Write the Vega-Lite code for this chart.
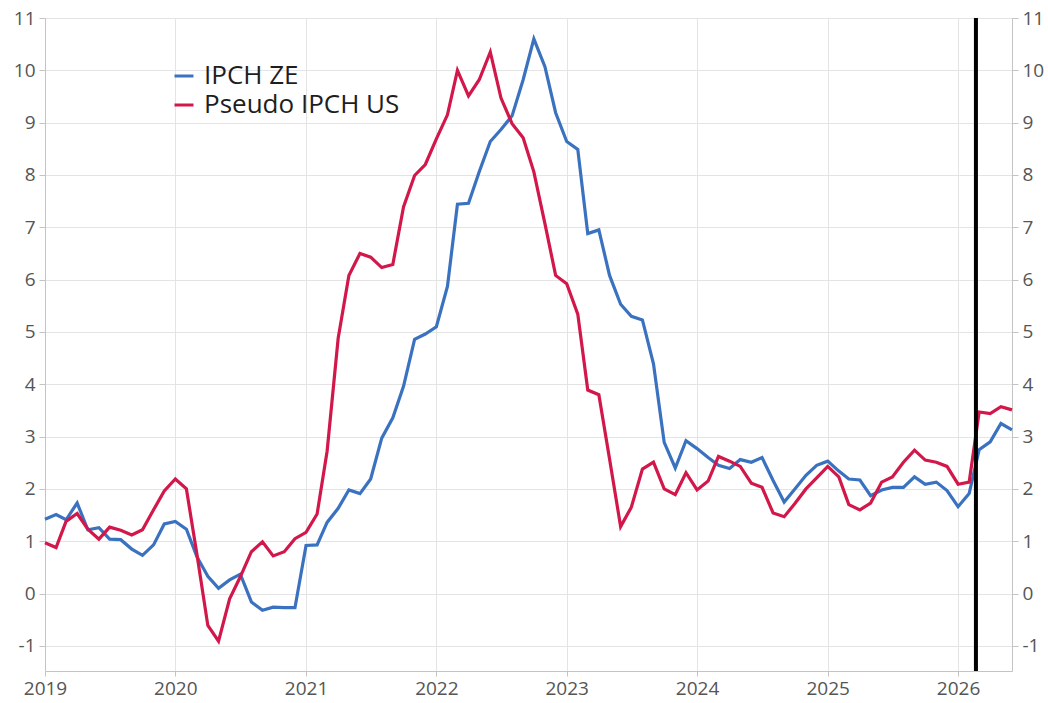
{
  "$schema": "https://vega.github.io/schema/vega-lite/v6.json",
  "width": 967,
  "height": 653,
  "autosize": {"type": "none"},
  "padding": {"left": 45, "top": 18, "right": 36, "bottom": 32},
  "background": "white",
  "config": {
    "font": "Open Sans",
    "view": {"stroke": null},
    "axis": {
      "labelFont": "Open Sans",
      "labelFontSize": 19,
      "labelColor": "#555555",
      "domainColor": "#c4c4c4",
      "tickColor": "#c4c4c4",
      "gridColor": "#e4e4e4",
      "title": null
    }
  },
  "datasets": {
    "series": [
      {"date": "2019-01-01", "serie": "IPCH ZE", "value": 1.42},
      {"date": "2019-02-01", "serie": "IPCH ZE", "value": 1.51},
      {"date": "2019-03-01", "serie": "IPCH ZE", "value": 1.41},
      {"date": "2019-04-01", "serie": "IPCH ZE", "value": 1.73},
      {"date": "2019-05-01", "serie": "IPCH ZE", "value": 1.22},
      {"date": "2019-06-01", "serie": "IPCH ZE", "value": 1.26},
      {"date": "2019-07-01", "serie": "IPCH ZE", "value": 1.04},
      {"date": "2019-08-01", "serie": "IPCH ZE", "value": 1.03},
      {"date": "2019-09-01", "serie": "IPCH ZE", "value": 0.85},
      {"date": "2019-10-01", "serie": "IPCH ZE", "value": 0.73},
      {"date": "2019-11-01", "serie": "IPCH ZE", "value": 0.93},
      {"date": "2019-12-01", "serie": "IPCH ZE", "value": 1.33},
      {"date": "2020-01-01", "serie": "IPCH ZE", "value": 1.38},
      {"date": "2020-02-01", "serie": "IPCH ZE", "value": 1.23},
      {"date": "2020-03-01", "serie": "IPCH ZE", "value": 0.71},
      {"date": "2020-04-01", "serie": "IPCH ZE", "value": 0.33},
      {"date": "2020-05-01", "serie": "IPCH ZE", "value": 0.10},
      {"date": "2020-06-01", "serie": "IPCH ZE", "value": 0.26},
      {"date": "2020-07-01", "serie": "IPCH ZE", "value": 0.37},
      {"date": "2020-08-01", "serie": "IPCH ZE", "value": -0.16},
      {"date": "2020-09-01", "serie": "IPCH ZE", "value": -0.32},
      {"date": "2020-10-01", "serie": "IPCH ZE", "value": -0.26},
      {"date": "2020-11-01", "serie": "IPCH ZE", "value": -0.27},
      {"date": "2020-12-01", "serie": "IPCH ZE", "value": -0.27},
      {"date": "2021-01-01", "serie": "IPCH ZE", "value": 0.92},
      {"date": "2021-02-01", "serie": "IPCH ZE", "value": 0.93},
      {"date": "2021-03-01", "serie": "IPCH ZE", "value": 1.36},
      {"date": "2021-04-01", "serie": "IPCH ZE", "value": 1.63},
      {"date": "2021-05-01", "serie": "IPCH ZE", "value": 1.98},
      {"date": "2021-06-01", "serie": "IPCH ZE", "value": 1.91},
      {"date": "2021-07-01", "serie": "IPCH ZE", "value": 2.19},
      {"date": "2021-08-01", "serie": "IPCH ZE", "value": 2.97},
      {"date": "2021-09-01", "serie": "IPCH ZE", "value": 3.36},
      {"date": "2021-10-01", "serie": "IPCH ZE", "value": 3.96},
      {"date": "2021-11-01", "serie": "IPCH ZE", "value": 4.86},
      {"date": "2021-12-01", "serie": "IPCH ZE", "value": 4.96},
      {"date": "2022-01-01", "serie": "IPCH ZE", "value": 5.10},
      {"date": "2022-02-01", "serie": "IPCH ZE", "value": 5.87},
      {"date": "2022-03-01", "serie": "IPCH ZE", "value": 7.44},
      {"date": "2022-04-01", "serie": "IPCH ZE", "value": 7.46},
      {"date": "2022-05-01", "serie": "IPCH ZE", "value": 8.06},
      {"date": "2022-06-01", "serie": "IPCH ZE", "value": 8.64},
      {"date": "2022-07-01", "serie": "IPCH ZE", "value": 8.87},
      {"date": "2022-08-01", "serie": "IPCH ZE", "value": 9.13},
      {"date": "2022-09-01", "serie": "IPCH ZE", "value": 9.82},
      {"date": "2022-10-01", "serie": "IPCH ZE", "value": 10.6},
      {"date": "2022-11-01", "serie": "IPCH ZE", "value": 10.07},
      {"date": "2022-12-01", "serie": "IPCH ZE", "value": 9.19},
      {"date": "2023-01-01", "serie": "IPCH ZE", "value": 8.64},
      {"date": "2023-02-01", "serie": "IPCH ZE", "value": 8.49},
      {"date": "2023-03-01", "serie": "IPCH ZE", "value": 6.88},
      {"date": "2023-04-01", "serie": "IPCH ZE", "value": 6.95},
      {"date": "2023-05-01", "serie": "IPCH ZE", "value": 6.08},
      {"date": "2023-06-01", "serie": "IPCH ZE", "value": 5.53},
      {"date": "2023-07-01", "serie": "IPCH ZE", "value": 5.30},
      {"date": "2023-08-01", "serie": "IPCH ZE", "value": 5.23},
      {"date": "2023-09-01", "serie": "IPCH ZE", "value": 4.39},
      {"date": "2023-10-01", "serie": "IPCH ZE", "value": 2.89},
      {"date": "2023-11-01", "serie": "IPCH ZE", "value": 2.40},
      {"date": "2023-12-01", "serie": "IPCH ZE", "value": 2.92},
      {"date": "2024-01-01", "serie": "IPCH ZE", "value": 2.77},
      {"date": "2024-02-01", "serie": "IPCH ZE", "value": 2.60},
      {"date": "2024-03-01", "serie": "IPCH ZE", "value": 2.45},
      {"date": "2024-04-01", "serie": "IPCH ZE", "value": 2.39},
      {"date": "2024-05-01", "serie": "IPCH ZE", "value": 2.56},
      {"date": "2024-06-01", "serie": "IPCH ZE", "value": 2.51},
      {"date": "2024-07-01", "serie": "IPCH ZE", "value": 2.60},
      {"date": "2024-08-01", "serie": "IPCH ZE", "value": 2.16},
      {"date": "2024-09-01", "serie": "IPCH ZE", "value": 1.75},
      {"date": "2024-10-01", "serie": "IPCH ZE", "value": 2.00},
      {"date": "2024-11-01", "serie": "IPCH ZE", "value": 2.26},
      {"date": "2024-12-01", "serie": "IPCH ZE", "value": 2.45},
      {"date": "2025-01-01", "serie": "IPCH ZE", "value": 2.53},
      {"date": "2025-02-01", "serie": "IPCH ZE", "value": 2.34},
      {"date": "2025-03-01", "serie": "IPCH ZE", "value": 2.19},
      {"date": "2025-04-01", "serie": "IPCH ZE", "value": 2.17},
      {"date": "2025-05-01", "serie": "IPCH ZE", "value": 1.87},
      {"date": "2025-06-01", "serie": "IPCH ZE", "value": 1.98},
      {"date": "2025-07-01", "serie": "IPCH ZE", "value": 2.03},
      {"date": "2025-08-01", "serie": "IPCH ZE", "value": 2.03},
      {"date": "2025-09-01", "serie": "IPCH ZE", "value": 2.23},
      {"date": "2025-10-01", "serie": "IPCH ZE", "value": 2.09},
      {"date": "2025-11-01", "serie": "IPCH ZE", "value": 2.13},
      {"date": "2025-12-01", "serie": "IPCH ZE", "value": 1.97},
      {"date": "2026-01-01", "serie": "IPCH ZE", "value": 1.66},
      {"date": "2026-02-01", "serie": "IPCH ZE", "value": 1.91},
      {"date": "2026-03-01", "serie": "IPCH ZE", "value": 2.75},
      {"date": "2026-04-01", "serie": "IPCH ZE", "value": 2.90},
      {"date": "2026-05-01", "serie": "IPCH ZE", "value": 3.25},
      {"date": "2026-06-01", "serie": "IPCH ZE", "value": 3.13},
      {"date": "2019-01-01", "serie": "Pseudo IPCH US", "value": 0.97},
      {"date": "2019-02-01", "serie": "Pseudo IPCH US", "value": 0.88},
      {"date": "2019-03-01", "serie": "Pseudo IPCH US", "value": 1.38},
      {"date": "2019-04-01", "serie": "Pseudo IPCH US", "value": 1.53},
      {"date": "2019-05-01", "serie": "Pseudo IPCH US", "value": 1.23},
      {"date": "2019-06-01", "serie": "Pseudo IPCH US", "value": 1.04},
      {"date": "2019-07-01", "serie": "Pseudo IPCH US", "value": 1.27},
      {"date": "2019-08-01", "serie": "Pseudo IPCH US", "value": 1.21},
      {"date": "2019-09-01", "serie": "Pseudo IPCH US", "value": 1.12},
      {"date": "2019-10-01", "serie": "Pseudo IPCH US", "value": 1.22},
      {"date": "2019-11-01", "serie": "Pseudo IPCH US", "value": 1.60},
      {"date": "2019-12-01", "serie": "Pseudo IPCH US", "value": 1.96},
      {"date": "2020-01-01", "serie": "Pseudo IPCH US", "value": 2.19},
      {"date": "2020-02-01", "serie": "Pseudo IPCH US", "value": 2.00},
      {"date": "2020-03-01", "serie": "Pseudo IPCH US", "value": 0.77},
      {"date": "2020-04-01", "serie": "Pseudo IPCH US", "value": -0.61},
      {"date": "2020-05-01", "serie": "Pseudo IPCH US", "value": -0.91},
      {"date": "2020-06-01", "serie": "Pseudo IPCH US", "value": -0.10},
      {"date": "2020-07-01", "serie": "Pseudo IPCH US", "value": 0.32},
      {"date": "2020-08-01", "serie": "Pseudo IPCH US", "value": 0.80},
      {"date": "2020-09-01", "serie": "Pseudo IPCH US", "value": 0.99},
      {"date": "2020-10-01", "serie": "Pseudo IPCH US", "value": 0.72},
      {"date": "2020-11-01", "serie": "Pseudo IPCH US", "value": 0.80},
      {"date": "2020-12-01", "serie": "Pseudo IPCH US", "value": 1.05},
      {"date": "2021-01-01", "serie": "Pseudo IPCH US", "value": 1.17},
      {"date": "2021-02-01", "serie": "Pseudo IPCH US", "value": 1.52},
      {"date": "2021-03-01", "serie": "Pseudo IPCH US", "value": 2.72},
      {"date": "2021-04-01", "serie": "Pseudo IPCH US", "value": 4.88},
      {"date": "2021-05-01", "serie": "Pseudo IPCH US", "value": 6.08},
      {"date": "2021-06-01", "serie": "Pseudo IPCH US", "value": 6.50},
      {"date": "2021-07-01", "serie": "Pseudo IPCH US", "value": 6.43},
      {"date": "2021-08-01", "serie": "Pseudo IPCH US", "value": 6.23},
      {"date": "2021-09-01", "serie": "Pseudo IPCH US", "value": 6.29},
      {"date": "2021-10-01", "serie": "Pseudo IPCH US", "value": 7.39},
      {"date": "2021-11-01", "serie": "Pseudo IPCH US", "value": 7.99},
      {"date": "2021-12-01", "serie": "Pseudo IPCH US", "value": 8.20},
      {"date": "2022-01-01", "serie": "Pseudo IPCH US", "value": 8.69},
      {"date": "2022-02-01", "serie": "Pseudo IPCH US", "value": 9.15},
      {"date": "2022-03-01", "serie": "Pseudo IPCH US", "value": 10.00},
      {"date": "2022-04-01", "serie": "Pseudo IPCH US", "value": 9.51},
      {"date": "2022-05-01", "serie": "Pseudo IPCH US", "value": 9.82},
      {"date": "2022-06-01", "serie": "Pseudo IPCH US", "value": 10.35},
      {"date": "2022-07-01", "serie": "Pseudo IPCH US", "value": 9.47},
      {"date": "2022-08-01", "serie": "Pseudo IPCH US", "value": 8.98},
      {"date": "2022-09-01", "serie": "Pseudo IPCH US", "value": 8.71},
      {"date": "2022-10-01", "serie": "Pseudo IPCH US", "value": 8.06},
      {"date": "2022-11-01", "serie": "Pseudo IPCH US", "value": 7.07},
      {"date": "2022-12-01", "serie": "Pseudo IPCH US", "value": 6.08},
      {"date": "2023-01-01", "serie": "Pseudo IPCH US", "value": 5.92},
      {"date": "2023-02-01", "serie": "Pseudo IPCH US", "value": 5.34},
      {"date": "2023-03-01", "serie": "Pseudo IPCH US", "value": 3.89},
      {"date": "2023-04-01", "serie": "Pseudo IPCH US", "value": 3.80},
      {"date": "2023-05-01", "serie": "Pseudo IPCH US", "value": 2.57},
      {"date": "2023-06-01", "serie": "Pseudo IPCH US", "value": 1.28},
      {"date": "2023-07-01", "serie": "Pseudo IPCH US", "value": 1.65},
      {"date": "2023-08-01", "serie": "Pseudo IPCH US", "value": 2.38},
      {"date": "2023-09-01", "serie": "Pseudo IPCH US", "value": 2.51},
      {"date": "2023-10-01", "serie": "Pseudo IPCH US", "value": 2.00},
      {"date": "2023-11-01", "serie": "Pseudo IPCH US", "value": 1.89},
      {"date": "2023-12-01", "serie": "Pseudo IPCH US", "value": 2.31},
      {"date": "2024-01-01", "serie": "Pseudo IPCH US", "value": 1.98},
      {"date": "2024-02-01", "serie": "Pseudo IPCH US", "value": 2.15},
      {"date": "2024-03-01", "serie": "Pseudo IPCH US", "value": 2.62},
      {"date": "2024-04-01", "serie": "Pseudo IPCH US", "value": 2.53},
      {"date": "2024-05-01", "serie": "Pseudo IPCH US", "value": 2.43},
      {"date": "2024-06-01", "serie": "Pseudo IPCH US", "value": 2.11},
      {"date": "2024-07-01", "serie": "Pseudo IPCH US", "value": 2.03},
      {"date": "2024-08-01", "serie": "Pseudo IPCH US", "value": 1.54},
      {"date": "2024-09-01", "serie": "Pseudo IPCH US", "value": 1.47},
      {"date": "2024-10-01", "serie": "Pseudo IPCH US", "value": 1.72},
      {"date": "2024-11-01", "serie": "Pseudo IPCH US", "value": 2.00},
      {"date": "2024-12-01", "serie": "Pseudo IPCH US", "value": 2.21},
      {"date": "2025-01-01", "serie": "Pseudo IPCH US", "value": 2.43},
      {"date": "2025-02-01", "serie": "Pseudo IPCH US", "value": 2.23},
      {"date": "2025-03-01", "serie": "Pseudo IPCH US", "value": 1.70},
      {"date": "2025-04-01", "serie": "Pseudo IPCH US", "value": 1.60},
      {"date": "2025-05-01", "serie": "Pseudo IPCH US", "value": 1.73},
      {"date": "2025-06-01", "serie": "Pseudo IPCH US", "value": 2.13},
      {"date": "2025-07-01", "serie": "Pseudo IPCH US", "value": 2.23},
      {"date": "2025-08-01", "serie": "Pseudo IPCH US", "value": 2.51},
      {"date": "2025-09-01", "serie": "Pseudo IPCH US", "value": 2.74},
      {"date": "2025-10-01", "serie": "Pseudo IPCH US", "value": 2.55},
      {"date": "2025-11-01", "serie": "Pseudo IPCH US", "value": 2.51},
      {"date": "2025-12-01", "serie": "Pseudo IPCH US", "value": 2.43},
      {"date": "2026-01-01", "serie": "Pseudo IPCH US", "value": 2.09},
      {"date": "2026-02-01", "serie": "Pseudo IPCH US", "value": 2.13},
      {"date": "2026-03-01", "serie": "Pseudo IPCH US", "value": 3.47},
      {"date": "2026-04-01", "serie": "Pseudo IPCH US", "value": 3.44},
      {"date": "2026-05-01", "serie": "Pseudo IPCH US", "value": 3.57},
      {"date": "2026-06-01", "serie": "Pseudo IPCH US", "value": 3.51}
    ],
    "marker": [{"date": "2026-02-20"}]
  },
  "layer": [
    {
      "data": {"name": "series"},
      "mark": {"type": "line", "strokeWidth": 3, "opacity": 0},
      "encoding": {
        "x": {
          "field": "date", "type": "temporal",
          "scale": {"type": "utc", "domain": ["2019-01-01", "2026-06-01"], "nice": false},
          "axis": {"grid": true, "format": "%Y", "tickCount": {"interval": "year", "step": 1}, "tickSize": 5, "labelPadding": 3, "labelAlign": "center"}
        },
        "y": {
          "field": "value", "type": "quantitative",
          "scale": {"domain": [-1.48, 11], "nice": false, "zero": false},
          "axis": {"orient": "right", "grid": false, "values": [-1, 0, 1, 2, 3, 4, 5, 6, 7, 8, 9, 10, 11], "labelExpr": "toString(datum.value)", "tickSize": 6, "labelPadding": 4}
        },
        "detail": {"field": "serie"}
      }
    },
    {
      "data": {"name": "series"},
      "mark": {"type": "line", "strokeWidth": 3.2},
      "encoding": {
        "x": {"field": "date", "type": "temporal"},
        "y": {
          "field": "value", "type": "quantitative",
          "axis": {"orient": "left", "grid": true, "values": [-1, 0, 1, 2, 3, 4, 5, 6, 7, 8, 9, 10, 11], "labelExpr": "toString(datum.value)", "tickSize": 6, "labelPadding": 4}
        },
        "color": {
          "field": "serie", "type": "nominal",
          "scale": {"domain": ["IPCH ZE", "Pseudo IPCH US"], "range": ["#3a72c0", "#d2174a"]},
          "legend": {
            "orient": "none", "legendX": 126, "legendY": 45, "title": null,
            "labelFontSize": 26, "labelColor": "#1e1e1e", "labelFont": "Open Sans", "labelLimit": 0,
            "symbolType": "stroke", "symbolStrokeWidth": 3, "symbolSize": 360,
            "rowPadding": 3, "labelOffset": 7
          }
        }
      }
    },
    {
      "data": {"name": "marker"},
      "mark": {"type": "rule", "color": "black", "strokeWidth": 4},
      "encoding": {"x": {"field": "date", "type": "temporal"}}
    }
  ],
  "resolve": {"axis": {"y": "independent"}}
}
